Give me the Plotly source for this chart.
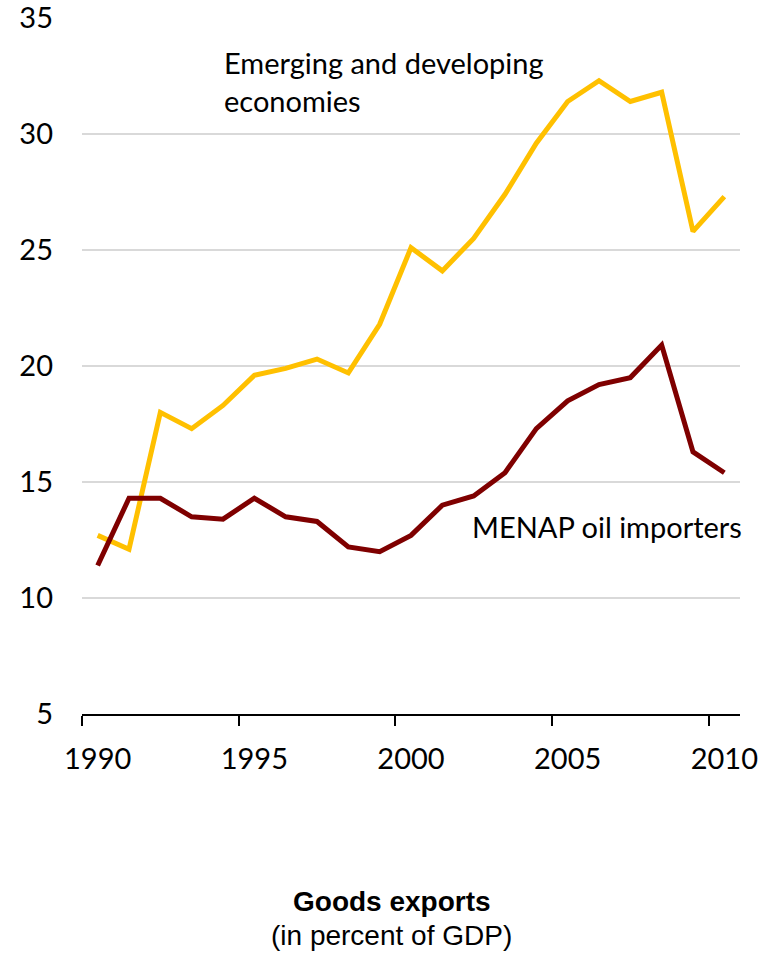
import plotly.graph_objects as go

# Goods exports, percent of GDP
years = list(range(1990, 2011))
emerging = [12.7, 12.1, 18.0, 17.3, 18.3, 19.6, 19.9, 20.3, 19.7, 21.8,
            25.1, 24.1, 25.5, 27.4, 29.6, 31.4, 32.3, 31.4, 31.8, 25.8, 27.3]
menap = [11.4, 14.3, 14.3, 13.5, 13.4, 14.3, 13.5, 13.3, 12.2, 12.0,
         12.7, 14.0, 14.4, 15.4, 17.3, 18.5, 19.2, 19.5, 20.9, 16.3, 15.4]

tick_years = [1990, 1995, 2000, 2005, 2010]
y_ticks = [5, 10, 15, 20, 25, 30, 35]

label_font = dict(family="Lato", size=29, color="#000000")
title_font = dict(family="Liberation Sans", size=28, color="#000000")
x_range = [years[0] - 0.5, years[-1] + 0.5]

fig = go.Figure()
fig.add_trace(go.Scatter(x=years, y=emerging, mode="lines",
                         name="Emerging and developing economies",
                         line=dict(color="#FFC000", width=5)))
fig.add_trace(go.Scatter(x=years, y=menap, mode="lines",
                         name="MENAP oil importers",
                         line=dict(color="#7F0000", width=5)))
# invisible trace that carries the boundary tick axis
fig.add_trace(go.Scatter(x=x_range, y=[None, None], xaxis="x2",
                         showlegend=False, hoverinfo="skip"))

fig.update_layout(
    width=769, height=954,
    margin=dict(l=82, r=29, t=18, b=240),
    paper_bgcolor="white", plot_bgcolor="white",
    showlegend=False,
    font=label_font,
    xaxis=dict(range=x_range, tickvals=tick_years,
               ticktext=[str(v) for v in tick_years],
               ticks="", showgrid=False, zeroline=False, showline=False,
               tickfont=label_font, ticklabelstandoff=25, automargin=False),
    xaxis2=dict(range=x_range, overlaying="x", side="bottom",
                tickvals=[v - 0.5 for v in tick_years],
                showticklabels=False, ticks="outside", ticklen=10,
                tickwidth=1.5, tickcolor="#000000",
                showline=True, linecolor="#000000", linewidth=1.5,
                showgrid=False, zeroline=False, automargin=False),
    yaxis=dict(range=[5, 35], tickvals=y_ticks, ticks="",
               showgrid=True, gridcolor="#D9D9D9", gridwidth=1.5,
               zeroline=False, showline=False, automargin=False,
               ticklabeloverflow="allow",
               tickfont=label_font, ticklabelstandoff=28),
)

fig.add_annotation(x=1993.96, y=32.25, xref="x", yref="y",
                   text="Emerging and developing<br>economies",
                   showarrow=False, xanchor="left", yanchor="middle",
                   align="left", font=label_font)
fig.add_annotation(x=2001.88, y=13.1, xref="x", yref="y",
                   text="MENAP oil importers",
                   showarrow=False, xanchor="left", yanchor="middle",
                   align="left", font=label_font)
fig.add_annotation(x=0.471, y=-0.2700, xref="paper", yref="paper",
                   text="<b>Goods exports</b>",
                   showarrow=False, xanchor="center", yanchor="middle",
                   font=title_font)
fig.add_annotation(x=0.471, y=-0.3180, xref="paper", yref="paper",
                   text="(in percent of GDP)",
                   showarrow=False, xanchor="center", yanchor="middle",
                   font=title_font)

fig.write_html("out.html")
